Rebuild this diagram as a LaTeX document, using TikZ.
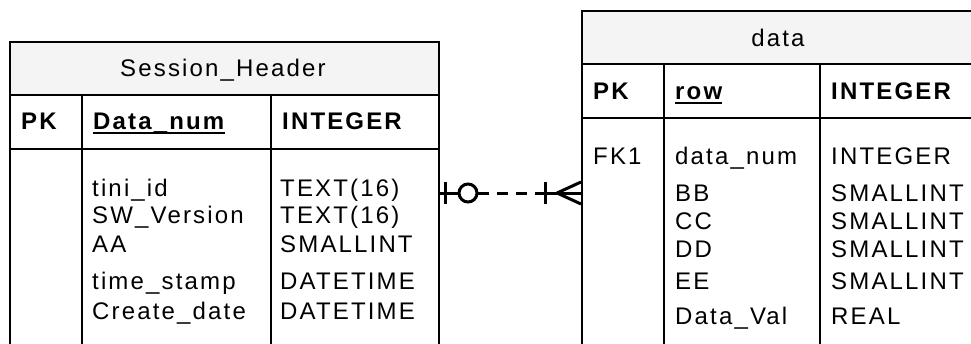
\documentclass[tikz,border=0pt]{standalone}
\usepackage{fontspec}
\setmainfont{Liberation Sans}[LetterSpace=9]
\begin{document}
\begin{tikzpicture}[x=1pt,y=-1pt,
  tbl/.style={draw=black,line width=1.5pt,anchor=north west,inner sep=0pt},
  hdr/.style={fill=gray!9},
  rule/.style={draw=black,line width=1.5pt},
  txt/.style={anchor=base west,inner sep=0pt,font=\fontsize{24}{28}\selectfont},
  btxt/.style={txt,font=\fontsize{24}{28}\selectfont\bfseries},
  ttl/.style={anchor=base,inner sep=0pt,font=\fontsize{24}{28}\selectfont},
  uline/.style={line width=1.8pt},
  rel/.style={line width=3pt,draw=black}]
\useasboundingbox (0,0) rectangle (971,343);
\clip (0,0) rectangle (971,343);
% ---------- Session_Header ----------
\fill[hdr] (9,41) rectangle (438,95);
\node[tbl,minimum width=429pt,minimum height=360pt] (sh) at (9,41) {};
\draw[rule] (9,95) -- (438,95);
\draw[rule] (9,149) -- (438,149);
\draw[rule] (82,95) -- (82,400);
\draw[rule] (271,95) -- (271,400);
\node[ttl] (shtitle) at (223,76) {Session\_Header};
\node[btxt] (shpk) at (21,129) {PK};
\node[btxt] (shkey) at (93,129) {Data\_num};
\draw[uline] ([yshift=-3.6pt]shkey.base west) -- ([yshift=-3.6pt]shkey.base east);
\node[btxt] (shkeyt) at (282,129) {INTEGER};
\node[txt] (s1) at (92,196) {tini\_id};
\node[txt] (s2) at (92,223) {SW\_Version};
\node[txt] (s3) at (92,252) {AA};
\node[txt] (s4) at (92,289) {time\_stamp};
\node[txt] (s5) at (92,319) {Create\_date};
\node[txt] (t1) at (280,196) {TEXT(16)};
\node[txt] (t2) at (280,223) {TEXT(16)};
\node[txt] (t3) at (280,252) {SMALLINT};
\node[txt] (t4) at (280,289) {DATETIME};
\node[txt] (t5) at (280,319) {DATETIME};
% ---------- data ----------
\fill[hdr] (581,10) rectangle (990,64);
\node[tbl,minimum width=410pt,minimum height=400pt] (dt) at (581,10) {};
\draw[rule] (581,64) -- (990,64);
\draw[rule] (581,118) -- (990,118);
\draw[rule] (664,64) -- (664,420);
\draw[rule] (820,64) -- (820,420);
\node[ttl] (dttitle) at (778,46) {data};
\node[btxt] (dtpk) at (593,99) {PK};
\node[btxt] (dtkey) at (675,99) {row};
\draw[uline] ([yshift=-3.6pt]dtkey.base west) -- ([yshift=-3.6pt]dtkey.base east);
\node[btxt] (dtkeyt) at (831,99) {INTEGER};
\node[txt] (fk) at (593,164) {FK1};
\node[txt] (d1) at (675,164) {data\_num};
\node[txt] (d2) at (675,201) {BB};
\node[txt] (d3) at (675,229) {CC};
\node[txt] (d4) at (675,257) {DD};
\node[txt] (d5) at (675,289) {EE};
\node[txt] (d6) at (675,324) {Data\_Val};
\node[txt] (u1) at (831,164) {INTEGER};
\node[txt] (u2) at (831,201) {SMALLINT};
\node[txt] (u3) at (831,229) {SMALLINT};
\node[txt] (u4) at (831,257) {SMALLINT};
\node[txt] (u5) at (831,289) {SMALLINT};
\node[txt] (u6) at (831,324) {REAL};
% ---------- relationship ----------
\coordinate (ra) at (438,193);
\coordinate (rb) at (581,193);
\draw[rel] (ra) -- ++(21,0);
\draw[rel] ([xshift=7pt]ra) ++(0,-11) -- ++(0,22);
\draw[rel] ([xshift=30pt]ra) circle (9pt);
\draw[rel,dash pattern=on 11pt off 8pt] ([xshift=40pt]ra) -- ([xshift=-44pt]rb);
\draw[rel] ([xshift=-44pt]rb) -- (rb);
\draw[rel] ([xshift=-36pt]rb) ++(0,-11) -- ++(0,22);
\draw[rel] ([xshift=-24pt]rb) -- ([yshift=-11pt]rb);
\draw[rel] ([xshift=-24pt]rb) -- ([yshift=11pt]rb);
\end{tikzpicture}
\end{document}
